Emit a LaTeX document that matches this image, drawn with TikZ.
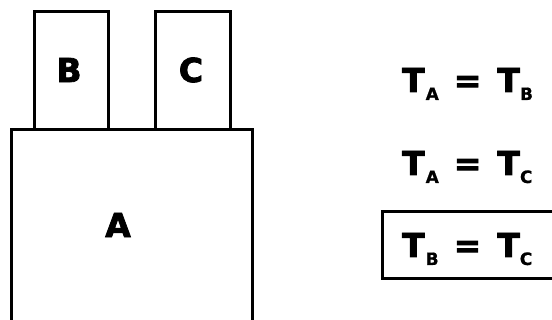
\documentclass[tikz,border=0pt]{standalone}
\usepackage{fontspec}
\setmainfont{DejaVu Sans}
\newfontfamily\heavyfont{DejaVu Sans Bold}[FakeBold=2.5]
\newfontfamily\subfont{DejaVu Sans Bold}[FakeBold=0.8]
\newcommand{\bigf}{\fontsize{33}{36}\selectfont\heavyfont}
\newcommand{\subf}{\fontsize{17}{18}\selectfont\subfont}
\newcommand{\tsub}[1]{\raisebox{-8pt}{\subf #1}}
\begin{document}
\begin{tikzpicture}[x=1pt,y=-1pt,
  box/.style={draw=black, line width=2.6pt, rectangle, inner sep=0pt},
  lbl/.style={font=\bigf, inner sep=0pt},
  eq/.style={font=\bigf, inner sep=0pt, anchor=base west}]
\useasboundingbox (0,0) rectangle (552,320);
\clip (0,0) rectangle (552,320);
\fill[white] (0,0) rectangle (552,320);
% boxes
\node[box, minimum width=74pt, minimum height=118pt, anchor=north west] (B) at (33,10) {};
\node[box, minimum width=75pt, minimum height=118pt, anchor=north west] (C) at (154,10) {};
\node[box, minimum width=241pt, minimum height=220pt, anchor=north west] (A) at (10,128) {};
\node[lbl] (Bl) at (69,70) {B};
\node[lbl] (Cl) at (191,70) {C};
\node[lbl] (Al) at (118,225) {A};
% equations
\node[eq] (e1) at (402,92) {T\hspace{1pt}\tsub{A}\hspace{15pt}=\hspace{16pt}T\tsub{B}};
\node[eq] (e2) at (402,175) {T\hspace{1pt}\tsub{A}\hspace{15pt}=\hspace{16pt}T\tsub{C}};
\node[eq] (e3) at (402,257) {T\hspace{1pt}\tsub{B}\hspace{15pt}=\hspace{16pt}T\tsub{C}};
\node[box, minimum width=200pt, minimum height=67pt, anchor=north west] (hl) at (381,210) {};
\end{tikzpicture}
\end{document}
